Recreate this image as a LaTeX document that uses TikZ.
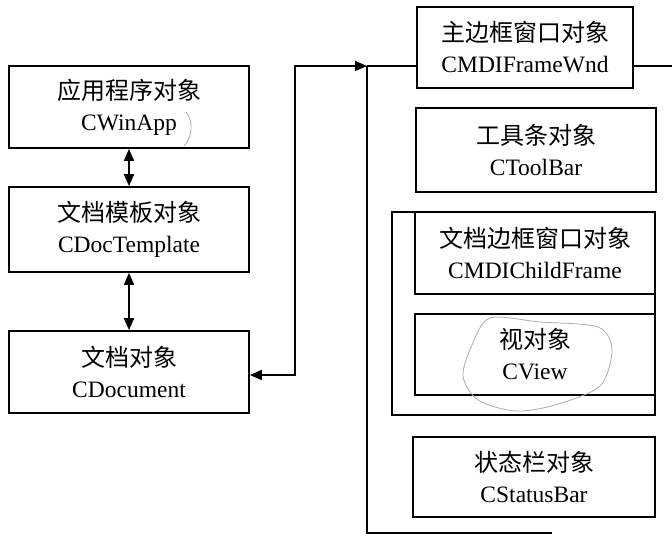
\documentclass[tikz,border=0pt]{standalone}
\usepackage{fontspec}
\setmainfont{Liberation Serif}
\newfontfamily\cjk{Noto Sans CJK SC}
\usetikzlibrary{arrows.meta}
\newcommand{\zh}[1]{{\cjk\fontsize{24}{31}\selectfont #1}}
\begin{document}
\begin{tikzpicture}[x=1pt,y=-1pt,
  box/.style={draw,line width=1.8pt,minimum width=240pt,minimum height=82pt,align=center,inner sep=0pt,font=\fontsize{23.5}{31}\selectfont},
  conn/.style={line width=1.8pt},
  tri/.tip={Triangle[length=12pt,width=10pt]},
  scribble/.style={gray!65,line width=0.8pt}]
\useasboundingbox (0,0) rectangle (672,537);
% left column
\node[box] (app) at (129,107) {\zh{应用程序对象}\\CWinApp};
\node[box,minimum height=85pt] (tpl) at (129,229.5) {\zh{文档模板对象}\\CDocTemplate};
\node[box] (doc) at (129,372) {\zh{文档对象}\\CDocument};
\draw[conn,tri-tri] (app.south) -- (tpl.north);
\draw[conn,tri-tri] (tpl.south) -- (doc.north);
% right column
\node[box,minimum width=216pt,minimum height=81pt] (mdi) at (525,47.5) {\zh{主边框窗口对象}\\CMDIFrameWnd};
\node[box,minimum height=84pt] (tool) at (536,150) {\zh{工具条对象}\\CToolBar};
\node[draw,line width=1.8pt,minimum width=263pt,minimum height=203pt,inner sep=0pt] (child) at (523.5,313.5) {};
\node[box] (cfr) at (535,253) {\zh{文档边框窗口对象}\\CMDIChildFrame};
\node[box,minimum height=81pt] (view) at (535,354.5) {\zh{视对象}\\CView};
\node[box,minimum width=242pt,minimum height=80pt] (stat) at (534,477) {\zh{状态栏对象}\\CStatusBar};
% connectors
\coordinate (d) at (249,375);
\coordinate (k) at (295,66);
\coordinate (j) at (367,66);
\coordinate (r) at (672,66);
\coordinate (b) at (367,533);
\coordinate (be) at (552,533);
\draw[conn,tri-tri] (doc.east |- d) -| (k) -- (j);
\draw[conn] (j) -- (mdi.west |- j);
\draw[conn] (mdi.east |- r) -- (r);
\draw[conn] (j) -- (b) -- (be);
% pencil marks
\draw[scribble] plot[smooth cycle] coordinates {(490,318) (540,322) (598,327) (612,350) (600,386) (555,405) (515,411) (478,400) (463,376) (472,345)};
\draw[scribble] (186,112) .. controls (194,122) and (192,138) .. (184,146);
\end{tikzpicture}
\end{document}
